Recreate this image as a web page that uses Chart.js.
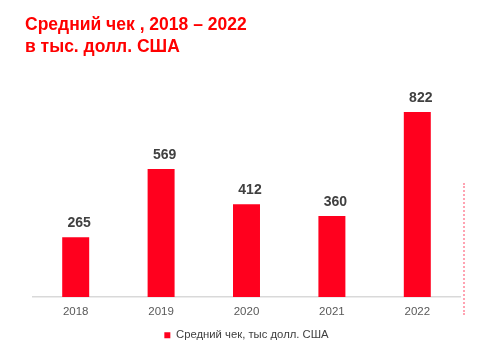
<!DOCTYPE html>
<html>
<head>
<meta charset="utf-8">
<script src="https://cdn.jsdelivr.net/npm/chart.js@4"></script>
<style>
html,body{margin:0;padding:0;background:#fff;}
#wrap{position:relative;width:485px;height:358px;overflow:hidden;}
#title{position:absolute;left:25px;top:13px;font-family:"Liberation Sans",Arial,sans-serif;font-weight:bold;font-size:17.5px;line-height:22px;color:#ff0000;white-space:nowrap;z-index:2;}
#deco{position:absolute;left:463px;top:183px;height:132px;width:0;border-left:2px dotted #ffa3b2;}
canvas{position:absolute;left:0;top:0;}
</style>
</head>
<body>
<div id="wrap">
<div id="title">Средний чек , 2018 – 2022<br>в тыс. долл. США</div>
<div id="deco"></div>
<canvas id="c" width="485" height="358"></canvas>
</div>
<script>
const categories = ["2018", "2019", "2020", "2021", "2022"];
const values = [265, 569, 412, 360, 822];
const seriesLabel = "Средний чек, тыс долл. США";

const FONT = '"Liberation Sans", Arial, sans-serif';

const valueLabels = {
  id: 'valueLabels',
  afterDatasetsDraw(chart) {
    const ctx = chart.ctx;
    const meta = chart.getDatasetMeta(0);
    ctx.save();
    ctx.font = 'bold 14px ' + FONT;
    ctx.fillStyle = '#404040';
    ctx.textAlign = 'center';
    ctx.textBaseline = 'middle';
    meta.data.forEach((bar, i) => {
      ctx.fillText(String(chart.data.datasets[0].data[i]), bar.x + 3.5, bar.y - 14);
    });
    ctx.restore();
  }
};

new Chart(document.getElementById('c'), {
  type: 'bar',
  data: {
    labels: categories,
    datasets: [{
      label: seriesLabel,
      data: values,
      backgroundColor: '#ff001e',
      borderWidth: 0,
      categoryPercentage: 1,
      barPercentage: 0.316
    }]
  },
  options: {
    responsive: false,
    animation: false,
    devicePixelRatio: 1,
    layout: { padding: { left: 33, right: 25, top: 72, bottom: 7 } },
    plugins: {
      legend: {
        position: 'bottom',
        labels: {
          boxWidth: 6, boxHeight: 6,
          color: '#404040',
          font: { family: FONT, size: 11.3 },
          padding: 3
        }
      },
      tooltip: { enabled: false },
      title: { display: false }
    },
    scales: {
      x: {
        grid: { display: false, drawTicks: false },
        border: { display: true, color: '#d9d9d9', width: 1.5 },
        ticks: { color: '#595959', font: { family: FONT, size: 11.5 }, padding: 8 }
      },
      y: {
        display: false,
        min: 0, max: 1000
      }
    }
  },
  plugins: [valueLabels]
});
</script>
</body>
</html>
